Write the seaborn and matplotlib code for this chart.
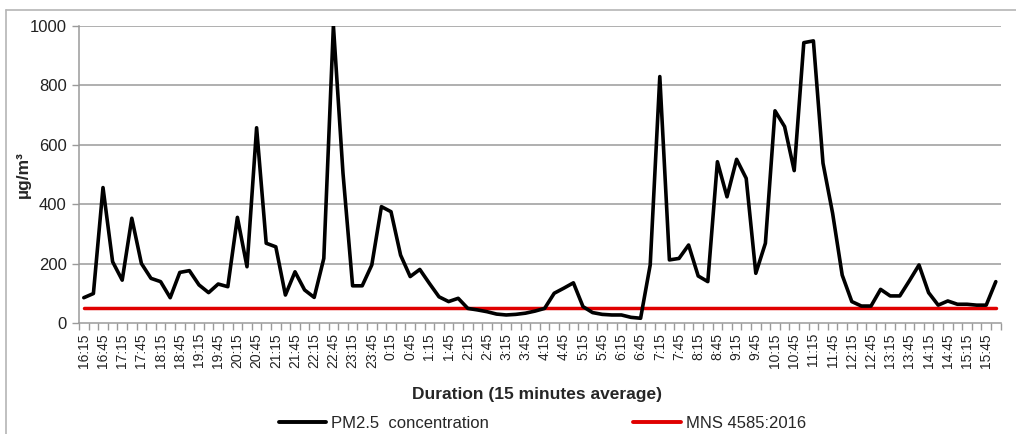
import numpy as np
import pandas as pd
import matplotlib
matplotlib.use("Agg")
import matplotlib.pyplot as plt
from matplotlib.lines import Line2D
import seaborn as sns

# ---- data ----
start_time = "16:15"
n_points = 96
time_labels = [t.strftime("%-H:%M") for t in pd.date_range("2000-01-01 " + start_time, periods=n_points, freq="15min")]

pm25 = [86, 100, 456, 207, 145, 353, 201, 151, 140, 86,
        171, 177, 129, 103, 132, 123, 356, 190, 657, 269,
        257, 95, 173, 112, 87, 218, 1000, 504, 126, 126,
        196, 392, 375, 229, 157, 181, 134, 89, 73, 84,
        50, 45, 39, 31, 28, 30, 34, 41, 50, 101,
        118, 136, 56, 36, 30, 28, 28, 20, 17, 196,
        829, 213, 218, 263, 159, 140, 543, 425, 551, 487,
        168, 269, 714, 661, 513, 943, 949, 538, 370, 162,
        73, 58, 58, 114, 92, 92, 143, 196, 103, 61,
        75, 64, 64, 61, 61, 140]
mns_limit = 50

series_names = ["PM2.5  concentration", "MNS 4585:2016"]
series_colors = ["#000000", "#e00000"]
y_ticks = [0, 200, 400, 600, 800, 1000]

df = pd.DataFrame({"pos": np.arange(len(time_labels)), "time": time_labels,
                   "pm25": pm25, "mns": [mns_limit] * len(time_labels)})

# ---- figure ----
sns.set_theme(style="white")
plt.rcParams["font.family"] = ["Liberation Sans", "DejaVu Sans"]

W, H = 1016, 434
fig = plt.figure(figsize=(W / 100, H / 100), dpi=100)
ax = fig.add_axes([79 / W, 1 - 323.3 / H, (1000.6 - 79) / W, (323.3 - 25.7) / H])

grid_c = "#9a9a9a"
for yv in y_ticks[1:]:
    ax.axhline(yv, color=grid_c, lw=1.1, zorder=0)

sns.lineplot(data=df, x="pos", y="mns", ax=ax, color=series_colors[1], lw=2.5, zorder=2)
sns.lineplot(data=df, x="pos", y="pm25", ax=ax, color=series_colors[0], lw=2.6, zorder=3)

ax.set_xlim(-0.5, len(time_labels) - 0.5)
ax.set_ylim(0, 1000)
ax.set_yticks(y_ticks)
ax.set_yticklabels([str(v) for v in y_ticks], fontsize=12, color="#222222")
ax.tick_params(axis="y", length=5, width=1, color=grid_c, pad=4, left=True)

ax.set_xticks(df["pos"][::2])
ax.set_xticklabels(df["time"][::2], rotation=90, fontsize=10, color="#222222")
ax.set_xticks(np.arange(-0.5, len(time_labels)), minor=True)
ax.tick_params(axis="x", which="major", length=0, pad=7, bottom=True)
ax.tick_params(axis="x", which="minor", length=5, width=1, color=grid_c, bottom=True)

for s in ["top", "right"]:
    ax.spines[s].set_visible(False)
for s in ["left", "bottom"]:
    ax.spines[s].set_color(grid_c)
    ax.spines[s].set_linewidth(1.1)

ax.set_xlabel("Duration (15 minutes average)", fontsize=12.5, fontweight="bold")
ax.set_ylabel("µg/m³", fontsize=12.5, fontweight="bold")
ax.yaxis.set_label_coords(-0.052, 0.5)
ax.xaxis.set_label_coords(0.497, -(395 - 323.3) / (323.3 - 25.7))
ax.xaxis.label.set_va("center")

handles = [Line2D([], [], color=c, lw=2.8) for c in series_colors]
fig.legend(handles, series_names, loc="center", bbox_to_anchor=(542.5 / W, 1 - 423 / H),
           ncol=2, frameon=False, fontsize=12, handlelength=2.85, handletextpad=0.3,
           columnspacing=8.65, borderaxespad=0, borderpad=0)

# chart-area border (left and top visible)
bc = "#b5b5b5"
fig.add_artist(Line2D([5.5 / W, 5.5 / W], [0, 1 - 10 / H], color=bc, lw=1.2, transform=fig.transFigure))
fig.add_artist(Line2D([5.5 / W, 1], [1 - 10 / H, 1 - 10 / H], color=bc, lw=1.2, transform=fig.transFigure))

fig.savefig("out.png", dpi=100)
